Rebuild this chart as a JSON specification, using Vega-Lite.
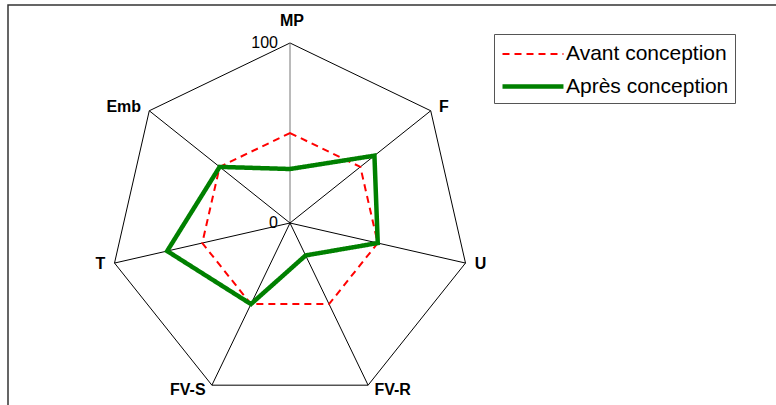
{
  "$schema": "https://vega.github.io/schema/vega-lite/v6.json",
  "autosize": {"type": "none"},
  "padding": {"left": 8, "top": 5, "right": 0, "bottom": 0},
  "width": 800,
  "height": 420,
  "background": "white",
  "config": {
    "view": {"stroke": "#333333", "strokeWidth": 1.5},
    "font": "Liberation Sans",
    "legend": {
      "orient": "none",
      "legendX": 486,
      "legendY": 29,
      "title": null,
      "symbolType": "M-1,0H3.69",
      "symbolSize": 676,
      "labelFontSize": 21,
      "labelFont": "Liberation Sans",
      "labelColor": "#000000",
      "labelOffset": 35,
      "labelLimit": 300,
      "strokeColor": "#555555",
      "fillColor": "#ffffff",
      "padding": 6,
      "rowPadding": 7
    }
  },
  "datasets": {
    "scores": [
      {"axis": "MP", "series": "Avant conception", "value": 50},
      {"axis": "F", "series": "Avant conception", "value": 50},
      {"axis": "U", "series": "Avant conception", "value": 50},
      {"axis": "FV-R", "series": "Avant conception", "value": 50},
      {"axis": "FV-S", "series": "Avant conception", "value": 50},
      {"axis": "T", "series": "Avant conception", "value": 50},
      {"axis": "Emb", "series": "Avant conception", "value": 50},
      {"axis": "MP", "series": "Après conception", "value": 30},
      {"axis": "F", "series": "Après conception", "value": 60},
      {"axis": "U", "series": "Après conception", "value": 50},
      {"axis": "FV-R", "series": "Après conception", "value": 20},
      {"axis": "FV-S", "series": "Après conception", "value": 50},
      {"axis": "T", "series": "Après conception", "value": 70},
      {"axis": "Emb", "series": "Après conception", "value": 50}
    ],
    "axes": [
      {"axis": "MP", "max": 100},
      {"axis": "F", "max": 100},
      {"axis": "U", "max": 100},
      {"axis": "FV-R", "max": 100},
      {"axis": "FV-S", "max": 100},
      {"axis": "T", "max": 100},
      {"axis": "Emb", "max": 100}
    ],
    "ticks": [
      {"axis": "MP", "label": "0", "value": 0},
      {"axis": "MP", "label": "100", "value": 100}
    ]
  },
  "layer": [
    {
      "data": {"name": "axes"},
      "transform": [
        {"calculate": "indexof(['MP','F','U','FV-R','FV-S','T','Emb'], datum.axis) * 2 * PI / 7", "as": "ang"},
        {"calculate": "datum.max * sin(datum.ang)", "as": "px"},
        {"calculate": "datum.max * cos(datum.ang)", "as": "py"}
      ],
      "mark": {"type": "line", "interpolate": "linear-closed", "color": "#000000", "strokeWidth": 1},
      "encoding": {
        "x": {"field": "px", "type": "quantitative", "scale": {"domain": [-156.67, 287.78], "nice": false, "zero": false}, "axis": null},
        "y": {"field": "py", "type": "quantitative", "scale": {"domain": [-112.22, 121.11], "nice": false, "zero": false}, "axis": null},
        "order": {"field": "ang", "type": "quantitative"}
      }
    },
    {
      "data": {"name": "axes"},
      "transform": [
        {"calculate": "indexof(['MP','F','U','FV-R','FV-S','T','Emb'], datum.axis) * 2 * PI / 7", "as": "ang"},
        {"calculate": "datum.max * sin(datum.ang)", "as": "px"},
        {"calculate": "datum.max * cos(datum.ang)", "as": "py"},
        {"calculate": "0", "as": "zero"}
      ],
      "mark": {"type": "rule", "strokeWidth": 1},
      "encoding": {
        "x": {"field": "px", "type": "quantitative"},
        "y": {"field": "py", "type": "quantitative"},
        "x2": {"field": "zero"},
        "y2": {"field": "zero"},
        "color": {"condition": {"test": "datum.axis === 'MP'", "value": "#777777"}, "value": "#000000"}
      }
    },
    {
      "data": {"name": "scores"},
      "transform": [
        {"filter": "datum.series === 'Avant conception'"},
        {"calculate": "indexof(['MP','F','U','FV-R','FV-S','T','Emb'], datum.axis) * 2 * PI / 7", "as": "ang"},
        {"calculate": "datum.value * sin(datum.ang)", "as": "px"},
        {"calculate": "datum.value * cos(datum.ang)", "as": "py"}
      ],
      "mark": {"type": "line", "interpolate": "linear-closed"},
      "encoding": {
        "x": {"field": "px", "type": "quantitative"},
        "y": {"field": "py", "type": "quantitative"},
        "order": {"field": "ang", "type": "quantitative"},
        "color": {"field": "series", "type": "nominal", "scale": {"domain": ["Avant conception", "Après conception"], "range": ["#FF0000", "#008000"]}},
        "strokeDash": {"field": "series", "type": "nominal", "scale": {"domain": ["Avant conception", "Après conception"], "range": [[7, 5], [1, 0]]}},
        "strokeWidth": {"field": "series", "type": "nominal", "scale": {"domain": ["Avant conception", "Après conception"], "range": [2, 4.5]}}
      }
    },
    {
      "data": {"name": "scores"},
      "transform": [
        {"filter": "datum.series === 'Après conception'"},
        {"calculate": "indexof(['MP','F','U','FV-R','FV-S','T','Emb'], datum.axis) * 2 * PI / 7", "as": "ang"},
        {"calculate": "datum.value * sin(datum.ang)", "as": "px"},
        {"calculate": "datum.value * cos(datum.ang)", "as": "py"}
      ],
      "mark": {"type": "line", "interpolate": "linear-closed", "strokeJoin": "miter"},
      "encoding": {
        "x": {"field": "px", "type": "quantitative"},
        "y": {"field": "py", "type": "quantitative"},
        "order": {"field": "ang", "type": "quantitative"},
        "color": {"field": "series", "type": "nominal"},
        "strokeDash": {"field": "series", "type": "nominal"},
        "strokeWidth": {"field": "series", "type": "nominal"}
      }
    },
    {
      "data": {"name": "ticks"},
      "transform": [
        {"calculate": "0", "as": "px"}
      ],
      "mark": {"type": "text", "align": "right", "baseline": "alphabetic", "dx": -12, "dy": 5, "fontSize": 16, "color": "#000000"},
      "encoding": {
        "x": {"field": "px", "type": "quantitative"},
        "y": {"field": "value", "type": "quantitative"},
        "text": {"field": "label"}
      }
    },
    {
      "data": {"name": "axes"},
      "transform": [
        {"filter": "datum.axis === 'MP'"},
        {"calculate": "indexof(['MP','F','U','FV-R','FV-S','T','Emb'], datum.axis) * 2 * PI / 7", "as": "ang"},
        {"calculate": "datum.max * 1.03 * sin(datum.ang)", "as": "px"},
        {"calculate": "datum.max * 1.03 * cos(datum.ang)", "as": "py"}
      ],
      "mark": {"type": "text", "align": "center", "baseline": "alphabetic", "dx": 2, "dy": -12, "fontSize": 16, "fontWeight": "bold", "color": "#000000"},
      "encoding": {
        "x": {"field": "px", "type": "quantitative"},
        "y": {"field": "py", "type": "quantitative"},
        "text": {"field": "axis"}
      }
    },
    {
      "data": {"name": "axes"},
      "transform": [
        {"filter": "indexof(['F','U','FV-R'], datum.axis) >= 0"},
        {"calculate": "indexof(['MP','F','U','FV-R','FV-S','T','Emb'], datum.axis) * 2 * PI / 7", "as": "ang"},
        {"calculate": "datum.max * 1.03 * sin(datum.ang)", "as": "px"},
        {"calculate": "datum.max * 1.03 * cos(datum.ang)", "as": "py"}
      ],
      "mark": {"type": "text", "align": "left", "baseline": "middle", "dx": 4, "fontSize": 16, "fontWeight": "bold", "color": "#000000"},
      "encoding": {
        "x": {"field": "px", "type": "quantitative"},
        "y": {"field": "py", "type": "quantitative"},
        "text": {"field": "axis"}
      }
    },
    {
      "data": {"name": "axes"},
      "transform": [
        {"filter": "indexof(['Emb','T','FV-S'], datum.axis) >= 0"},
        {"calculate": "indexof(['MP','F','U','FV-R','FV-S','T','Emb'], datum.axis) * 2 * PI / 7", "as": "ang"},
        {"calculate": "datum.max * 1.03 * sin(datum.ang)", "as": "px"},
        {"calculate": "datum.max * 1.03 * cos(datum.ang)", "as": "py"}
      ],
      "mark": {"type": "text", "align": "right", "baseline": "middle", "dx": -4, "fontSize": 16, "fontWeight": "bold", "color": "#000000"},
      "encoding": {
        "x": {"field": "px", "type": "quantitative"},
        "y": {"field": "py", "type": "quantitative"},
        "text": {"field": "axis"}
      }
    }
  ]
}
